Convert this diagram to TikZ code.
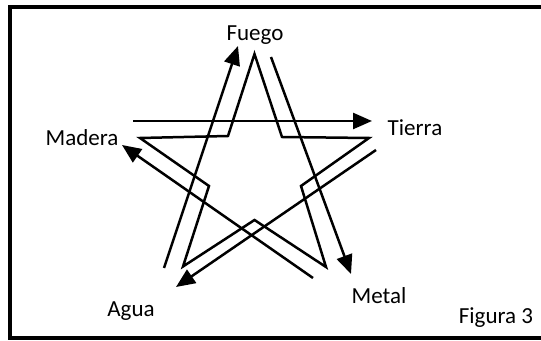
\documentclass[tikz,border=0pt]{standalone}
\usepackage{fontspec}
\setmainfont{Carlito}
\usetikzlibrary{arrows.meta}

\begin{document}
\begin{tikzpicture}[x=0.5pt, y=-0.5pt, line join=miter,
  name node/.style={font=\fontsize{11.5}{14}\selectfont, anchor=base, inner sep=0pt},
  flow/.style={line width=1.25pt, -{Triangle[length=9.5pt,width=8pt]}}]

\useasboundingbox (0,0) rectangle (541,341);
\draw[line width=1.8pt] (541,7) -- (10,7) -- (10,338) -- (541,338);

% labels
\node[name node] (F) at (255,41) {Fuego};
\node[name node] (T) at (415,136) {Tierra};
\node[name node] (M) at (82,146) {Madera};
\node[name node] (A) at (131,317) {Agua};
\node[name node] (Me) at (379,304) {Metal};
\node[name node] (fig) at (496,324) {Figura 3};

% star
\coordinate (s1) at (254.5,54);
\coordinate (s2) at (282,137);
\coordinate (s3) at (369,138);
\coordinate (s4) at (301,186);
\coordinate (s5) at (326,267);
\coordinate (s6) at (254.5,220);
\coordinate (s7) at (183,266.5);
\coordinate (s8) at (209,186);
\coordinate (s9) at (140,138);
\coordinate (s10) at (228,136);
\draw[line width=1.25pt] (s1) -- (s2) -- (s3) -- (s4) -- (s5) -- (s6) -- (s7) -- (s8) -- (s9) -- (s10) -- cycle;

% arrows
\coordinate (a1) at (164,268);  \coordinate (b1) at (238,46);
\coordinate (a2) at (271,57);   \coordinate (b2) at (351,274);
\coordinate (a3) at (133,121);  \coordinate (b3) at (372,121);
\coordinate (a4) at (376,150);  \coordinate (b4) at (176,287);
\coordinate (a5) at (313,278);  \coordinate (b5) at (122,145);

\draw[flow] (a1) -- (b1);
\draw[flow] (a2) -- (b2);
\draw[flow] (a3) -- (b3);
\draw[flow] (a4) -- (b4);
\draw[flow] (a5) -- (b5);
\end{tikzpicture}
\end{document}
